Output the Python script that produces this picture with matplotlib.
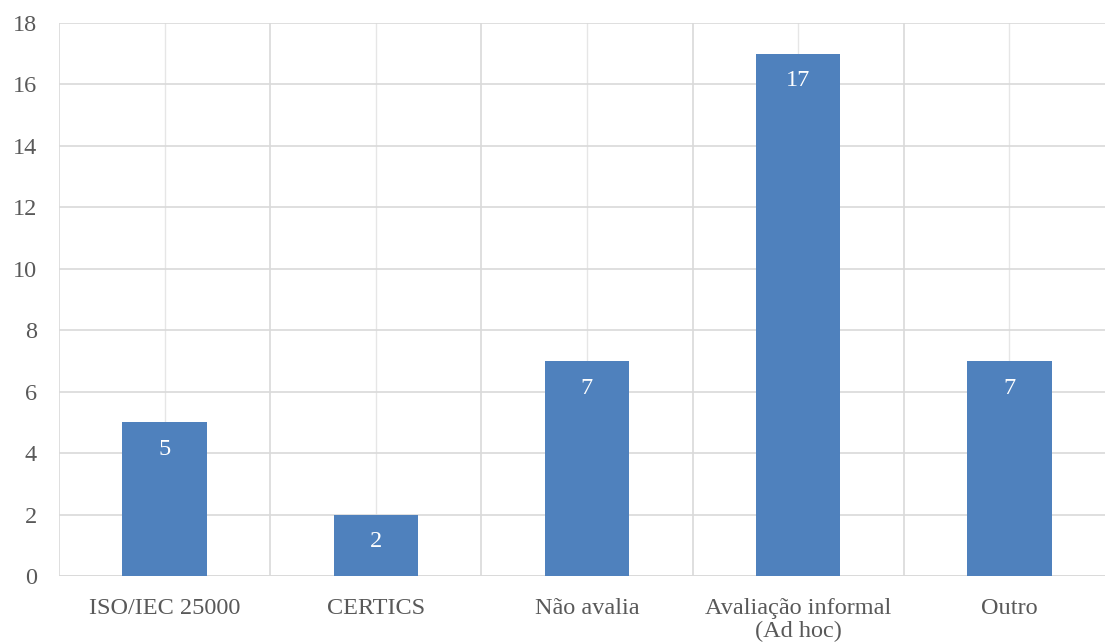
import numpy as np
import matplotlib.pyplot as plt

categories = ['ISO/IEC 25000', 'CERTICS', 'Não avalia', 'Avaliação informal\n(Ad hoc)', 'Outro']
values = [5, 2, 7, 17, 7]

plt.rcParams['font.family'] = ['Liberation Serif', 'DejaVu Serif']

fig = plt.figure(figsize=(11.05, 6.44), dpi=100)
ax = fig.add_axes([59 / 1105, 68 / 644, 1056 / 1105, 553 / 644])

x = np.arange(len(categories))
bars = ax.bar(x, values, width=0.4, color='#4f81bd', zorder=3)

for b, v in zip(bars, values):
    ax.annotate(str(v), (b.get_x() + b.get_width() / 2, v), xytext=(0, -19.5),
                textcoords='offset points', ha='center', va='center',
                color='white', fontsize=17.5, zorder=4)

ax.set_xlim(-0.5, 4.5)
ax.set_ylim(0, 18)
ax.set_yticks(range(0, 19, 2))
ax.set_xticks(x)
ax.set_xticklabels(categories, fontsize=17.5, color='#595959', linespacing=1.1)
ax.tick_params(axis='y', labelsize=17.5, labelcolor='#595959', length=0, pad=16)
ax.tick_params(axis='x', length=0, pad=16)

# gridlines: horizontal, category boundaries and centres
ax.grid(axis='y', color='#d9d9d9', linewidth=1.2, zorder=0)
for xb in np.arange(-0.5, 5, 1):
    ax.axvline(xb, color='#d9d9d9', linewidth=1.2, zorder=0)
for xc in x:
    ax.axvline(xc, color='#e6e6e6', linewidth=1.0, zorder=0)

for s in ax.spines.values():
    s.set_visible(False)
ax.axhline(0, color='#d9d9d9', linewidth=1.2, zorder=2)

fig.savefig('out.png', dpi=100)
plt.close()
